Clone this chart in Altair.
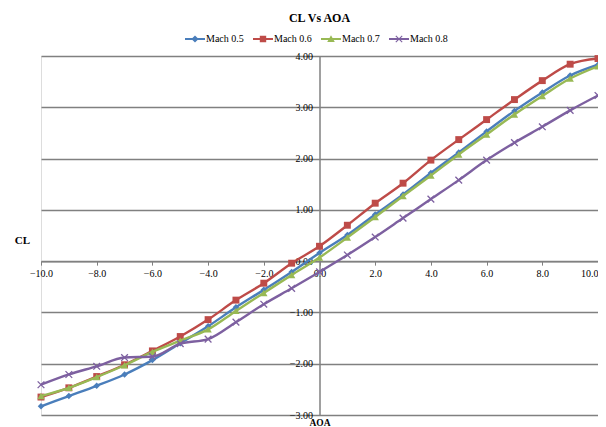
import altair as alt
import pandas as pd

# ---------------- data ----------------
aoa = [-10, -9, -8, -7, -6, -5, -4, -3, -2, -1, 0, 1, 2, 3, 4, 5, 6, 7, 8, 9, 10]

mach_05 = [-2.83, -2.63, -2.43, -2.21, -1.93, -1.60, -1.27, -0.90, -0.56, -0.21, 0.16,
           0.51, 0.91, 1.30, 1.72, 2.12, 2.53, 2.93, 3.29, 3.62, 3.83]
mach_06 = [-2.65, -2.47, -2.25, -2.02, -1.75, -1.47, -1.14, -0.76, -0.43, -0.04, 0.29,
           0.70, 1.13, 1.52, 1.97, 2.37, 2.76, 3.15, 3.52, 3.84, 3.95]
mach_07 = [-2.63, -2.47, -2.26, -2.03, -1.77, -1.55, -1.33, -0.97, -0.62, -0.27, 0.07,
           0.46, 0.86, 1.27, 1.67, 2.08, 2.47, 2.86, 3.22, 3.56, 3.80]
mach_08 = [-2.41, -2.21, -2.05, -1.88, -1.86, -1.61, -1.52, -1.19, -0.84, -0.53, -0.21,
           0.12, 0.47, 0.84, 1.21, 1.58, 1.97, 2.31, 2.62, 2.94, 3.23]

series_names = ["Mach 0.5", "Mach 0.6", "Mach 0.7", "Mach 0.8"]
series_values = [mach_05, mach_06, mach_07, mach_08]
colors = ["#4A7EBB", "#BE4B48", "#98B954", "#7D60A0"]

x_ticks = [-10, -8, -6, -4, -2, 0, 2, 4, 6, 8, 10]
y_ticks = [-3, -2, -1, 0, 1, 2, 3, 4]

title_text = "CL Vs AOA"
x_title = "AOA"
y_title = "CL"

# ---------------- table ----------------
rows = []
for name, vals in zip(series_names, series_values):
    for a, v in zip(aoa, vals):
        rows.append({"AOA": a, "CL": v, "Series": name})
df = pd.DataFrame(rows)

# ---------------- styling ----------------
FONT = "Liberation Serif"
W, H = 557, 359
x_off = -(H * 3.0 / 7.0)   # move x axis up to CL = 0
y_off = -(W / 2.0)         # move y axis right to AOA = 0
GRAY = "#808080"

# marker shapes used in the plot
plot_shapes = ["diamond", "square", "triangle-up", "M-1,-1L1,1M-1,1L1,-1"]
plot_sizes = [42, 48, 55, 45]

# legend symbols: a short line with the marker in the middle (all filled)
line_part = "M-1,-0.11L1,-0.11L1,0.11L-1,0.11Z"
legend_shapes = [
    line_part + "M0,-0.36L0.36,0L0,0.36L-0.36,0Z",
    line_part + "M-0.32,-0.32L0.32,-0.32L0.32,0.32L-0.32,0.32Z",
    line_part + "M0,-0.38L0.38,0.3L-0.38,0.3Z",
    line_part + "M-0.36,-0.28L-0.28,-0.36L0.36,0.28L0.28,0.36Z"
              + "M0.28,-0.36L0.36,-0.28L-0.28,0.36L-0.36,0.28Z",
]

x_scale = alt.Scale(domain=[-10, 10], nice=False, zero=False)
y_scale = alt.Scale(domain=[-3, 4], nice=False, zero=False)
color_scale = alt.Scale(domain=series_names, range=colors)

x_axis = alt.Axis(
    values=x_ticks, format=".1f", offset=x_off, grid=False,
    domainColor=GRAY, domainWidth=1.5, tickColor=GRAY, tickSize=4,
    labelPadding=3, labelFlush=False, labelFont=FONT, labelFontSize=10,
    labelColor="black",
    labelAlign=alt.ExprRef(expr="datum.value >= 10 ? 'right' : 'center'"),
    title=x_title, titleFont=FONT, titleFontSize=9.5, titleFontWeight="bold",
    titleColor="black", titleX=W / 2.0, titleY=156, titleBaseline="top",
    titleAlign="center",
)
y_axis = alt.Axis(
    values=y_ticks, format=".2f", offset=y_off, grid=True, gridColor=GRAY,
    gridWidth=1.3, domainColor=GRAY, domainWidth=1.5, tickColor=GRAY,
    tickSize=4, labelPadding=3, labelFlush=False, labelFont=FONT,
    labelFontSize=10, labelColor="black",
    title=y_title, titleFont=FONT, titleFontSize=11, titleFontWeight="bold",
    titleColor="black", titleAngle=0, titleX=-19 + y_off, titleY=184,
    titleAlign="center", titleBaseline="middle",
)

X = alt.X("AOA:Q", scale=x_scale, axis=x_axis)
Y = alt.Y("CL:Q", scale=y_scale, axis=y_axis)
Xn = alt.X("AOA:Q", scale=x_scale)
Yn = alt.Y("CL:Q", scale=y_scale)

base = alt.Chart(df)

# legend-only layer (no data drawn)
legend_layer = base.transform_filter("false").mark_point(
    filled=True, opacity=1
).encode(
    x=X, y=Y,
    color=alt.Color(
        "Series:N", scale=color_scale,
        legend=alt.Legend(
            title=None, orient="none", direction="horizontal",
            legendX=144, legendY=-27, symbolSize=400, labelOffset=1,
            columnPadding=9, labelFont=FONT, labelFontSize=10,
            labelColor="black", symbolStrokeWidth=0,
        ),
    ),
    shape=alt.Shape("Series:N",
                    scale=alt.Scale(domain=series_names, range=legend_shapes)),
)

layers = [legend_layer]
for name, shp, sz in zip(series_names, plot_shapes, plot_sizes):
    sub = base.transform_filter(alt.datum.Series == name)
    layers.append(
        sub.mark_line(strokeWidth=2.4, interpolate="monotone").encode(
            x=Xn, y=Yn, color=alt.Color("Series:N", scale=color_scale)
        )
    )
    if shp.startswith("M"):
        pt = sub.mark_point(shape=shp, filled=False, size=sz, strokeWidth=1.3,
                            opacity=1)
    else:
        pt = sub.mark_point(shape=shp, filled=True, size=sz, opacity=1)
    layers.append(
        pt.encode(x=Xn, y=Yn, color=alt.Color("Series:N", scale=color_scale))
    )

chart = alt.layer(*layers).properties(
    width=W, height=H,
    title=alt.TitleParams(
        title_text, font=FONT, fontSize=12, fontWeight="bold", color="black",
        anchor="middle", offset=4,
    ),
    autosize=alt.AutoSizeParams(type="none"),
    padding={"left": 33, "top": 48, "right": 0, "bottom": 16},
).configure_view(
    stroke="black", strokeWidth=1.8
).configure(background="white")

chart.save("out.html", embed_options={"renderer": "svg", "actions": False})
